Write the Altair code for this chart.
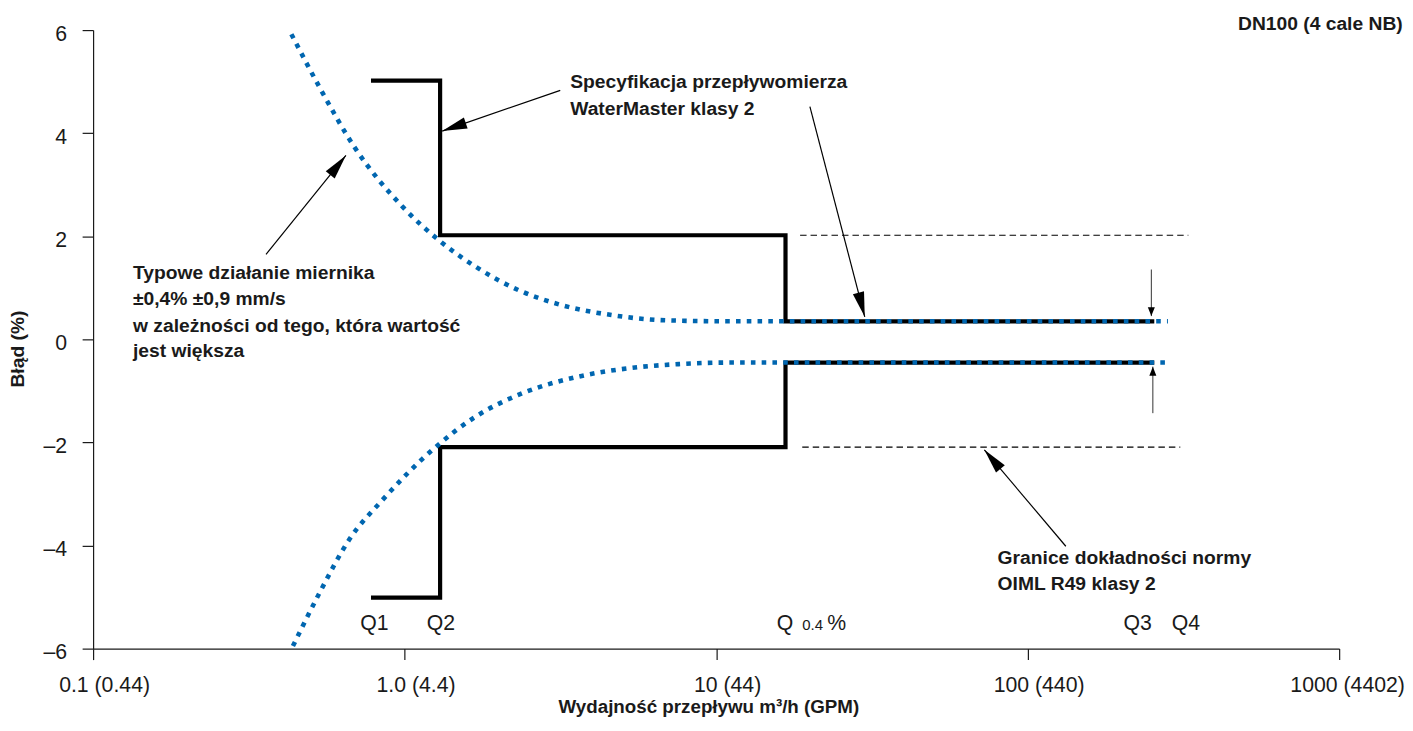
import math
import altair as alt
import pandas as pd

# ---------------- data ----------------
X_TICKS = [0.1, 1, 10, 100, 1000]
X_TICK_LABELS = ["0.1 (0.44)", "1.0 (4.4)", "10 (44)", "100 (440)", "1000 (4402)"]
Y_TICKS = [-6, -4, -2, 0, 2, 4, 6]

# WaterMaster class 2 specification (step limits)
SPEC_UP_X = [0.78, 1.30, 1.30, 16.7, 16.7, 255]
SPEC_UP_Y = [5.02, 5.02, 2.02, 2.02, 0.35, 0.35]
SPEC_LO_X = [0.78, 1.30, 1.30, 16.7, 16.7, 255]
SPEC_LO_Y = [-5.01, -5.01, -2.09, -2.09, -0.45, -0.45]

# typical meter performance (dotted blue)
TYP_UP_X = [0.433, 0.540, 0.690, 0.986, 1.29, 1.69, 2.33, 3.21, 4.64, 6.88, 11.2, 282]
TYP_UP_Y = [5.92, 4.83, 3.73, 2.57, 1.92, 1.41, 0.95, 0.66, 0.47, 0.37, 0.35, 0.35]
TYP_LO_X = [0.438, 0.533, 0.665, 0.851, 1.23, 1.69, 2.39, 3.63, 5.25, 7.59, 11.2, 282]
TYP_LO_Y = [-5.95, -4.92, -3.88, -3.11, -2.14, -1.50, -1.045, -0.72, -0.56, -0.48, -0.45, -0.45]

# OIML R49 class 2 limits (dashed)
OIML_X1 = [18.6, 18.9]
OIML_X2 = [328, 309]
OIML_Y = [2.02, -2.09]

# annotation arrows (start -> tip)
ARROW_X = [3.16, 20.0, 0.359, 132.6]
ARROW_Y = [4.83, 4.515, 1.651, -4.014]
ARROW_TX = [1.32, 30.0, 0.648, 72.6]
ARROW_TY = [4.04, 0.437, 3.567, -2.143]
SMALL_X = [249.5, 252.3]
SMALL_Y = [1.355, -1.432]
SMALL_TY = [0.451, -0.53]

# annotation text lines (left aligned, baseline)
NOTE_TEXT = ["Specyfikacja przepływomierza", "WaterMaster klasy 2",
             "Typowe działanie miernika", "±0,4% ±0,9 mm/s",
             "w zależności od tego, która wartość", "jest większa",
             "Granice dokładności normy", "OIML R49 klasy 2"]
NOTE_X = [3.40, 3.40, 0.1343, 0.1343, 0.1343, 0.1343, 80.1, 80.1]
NOTE_Y = [4.877, 4.36, 1.18, 0.664, 0.147, -0.337, -4.35, -4.866]

Q_TEXT = ["Q1", "Q2", "Q", "%", "Q3", "Q4"]
Q_X = [0.80, 1.308, 16.65, 24.4, 225.5, 322]
Q_Y = [-5.64, -5.64, -5.64, -5.64, -5.64, -5.64]
QSUB_TEXT = ["0.4"]
QSUB_X = [20.4]
QSUB_Y = [-5.64]

CORNER_TEXT = ["DN100 (4 cale NB)"]
CORNER_X = [1600]
CORNER_Y = [6.0]

# ---------------- layout ----------------
W, H = 1249, 620
FONT = "Liberation Sans"
BLUE = "#0066b0"
INK = "#1a1a1a"
BOLD = 19.3
REG = 21.3


def px(x):
    return (math.log10(x) + 1) * W / 4


def py(y):
    return (6 - y) * H / 12


def heading(sx, sy, tx, ty):
    dx = px(tx) - px(sx)
    dy = py(ty) - py(sy)
    return math.degrees(math.atan2(dx, -dy)) % 360


xscale = alt.Scale(type="log", domain=[0.1, 1000])
yscale = alt.Scale(domain=[-6, 6])

expr = ""
for v, lab in zip(X_TICKS[:-1], X_TICK_LABELS[:-1]):
    expr += f"datum.value < {v * 3} ? '{lab}' : "
expr += f"'{X_TICK_LABELS[-1]}'"

xaxis = alt.Axis(values=X_TICKS, labelExpr=expr, grid=False, tickSize=11,
                 labelFontSize=REG, labelFont=FONT, labelColor=INK,
                 labelOffset={"condition": {"test": "datum.value > 500", "value": 8},
                              "value": 11},
                 labelPadding=31.5, labelBaseline="alphabetic", labelOverlap=False,
                 labelFlush=False, domainColor=INK, tickColor=INK, domainWidth=1.2,
                 tickWidth=1.2, title="Wydajność przepływu m³/h (GPM)",
                 titleFont=FONT, titleFontSize=18.8, titleFontWeight="bold",
                 titleColor=INK, titleX=616.7, titleY=64.3, titleAlign="center",
                 titleBaseline="alphabetic")
yaxis = alt.Axis(values=Y_TICKS,
                 labelExpr="datum.value < 0 ? '–' + abs(datum.value) : datum.label",
                 grid=False, tickSize=11, labelFontSize=REG, labelFont=FONT,
                 labelColor=INK, labelPadding=15.6, labelBaseline="alphabetic",
                 labelOffset=10, labelOverlap=False, labelFlush=False,
                 domainColor=INK, tickColor=INK, domainWidth=1.2, tickWidth=1.2,
                 title="Błąd (%)", titleFont=FONT, titleFontSize=BOLD,
                 titleFontWeight="bold", titleColor=INK, titleAngle=270,
                 titleX=-69.8, titleY=319.2, titleAlign="center",
                 titleBaseline="alphabetic")


def series_df(xs, ys, name):
    return pd.DataFrame({"x": xs, "y": ys, "i": list(range(len(xs))), "s": name})


spec_df = pd.concat([series_df(SPEC_UP_X, SPEC_UP_Y, "up"),
                     series_df(SPEC_LO_X, SPEC_LO_Y, "lo")])
typ_df = pd.concat([series_df(TYP_UP_X, TYP_UP_Y, "up"),
                    series_df(TYP_LO_X, TYP_LO_Y, "lo")])
oiml_df = pd.DataFrame({"x": OIML_X1, "x2": OIML_X2, "y": OIML_Y})
arrow_df = pd.DataFrame({"x": ARROW_X, "y": ARROW_Y, "tx": ARROW_TX, "ty": ARROW_TY})
arrow_df["angle"] = [heading(a, b, c, d) for a, b, c, d in zip(ARROW_X, ARROW_Y, ARROW_TX, ARROW_TY)]
small_df = pd.DataFrame({"x": SMALL_X, "y": SMALL_Y, "tx": SMALL_X, "ty": SMALL_TY})
small_df["angle"] = [heading(a, b, a, d) for a, b, d in zip(SMALL_X, SMALL_Y, SMALL_TY)]
note_df = pd.DataFrame({"x": NOTE_X, "y": NOTE_Y, "t": NOTE_TEXT})
q_df = pd.DataFrame({"x": Q_X, "y": Q_Y, "t": Q_TEXT})
qsub_df = pd.DataFrame({"x": QSUB_X, "y": QSUB_Y, "t": QSUB_TEXT})
corner_df = pd.DataFrame({"x": CORNER_X, "y": CORNER_Y, "t": CORNER_TEXT})

X = alt.X("x:Q", scale=xscale, axis=xaxis)
Y = alt.Y("y:Q", scale=yscale, axis=yaxis)

oiml = alt.Chart(oiml_df).mark_rule(color="black", strokeWidth=1.1, strokeDash=[6.5, 4]).encode(
    x=X, x2="x2:Q", y=Y)

spec = alt.Chart(spec_df).mark_line(color="black", strokeWidth=4.2, strokeJoin="miter",
                                    strokeCap="butt").encode(
    x=X, y=Y, order="i:Q", detail="s:N")

typ = alt.Chart(typ_df).mark_line(color=BLUE, strokeWidth=4.6, strokeDash=[4.6, 6.2],
                                  strokeCap="butt", interpolate="monotone").encode(
    x=X, y=Y, order="i:Q", detail="s:N")

arrows = alt.Chart(arrow_df).mark_rule(color="black", strokeWidth=1.2).encode(
    x=X, y=Y, x2="tx:Q", y2="ty:Q")
heads = alt.Chart(arrow_df).mark_point(shape="M0,0 L0.23,1 L-0.23,1 Z", filled=True,
                                       color="black", opacity=1, size=2500,
                                       strokeWidth=0).encode(
    x=alt.X("tx:Q", scale=xscale), y=alt.Y("ty:Q", scale=yscale),
    angle=alt.Angle("angle:Q", scale=None))

small = alt.Chart(small_df).mark_rule(color="#333333", strokeWidth=1).encode(
    x=X, y=Y, x2="tx:Q", y2="ty:Q")
small_heads = alt.Chart(small_df).mark_point(shape="M0,0 L0.39,1 L-0.39,1 Z", filled=True,
                                             color="black", opacity=1, size=324,
                                             strokeWidth=0).encode(
    x=alt.X("tx:Q", scale=xscale), y=alt.Y("ty:Q", scale=yscale),
    angle=alt.Angle("angle:Q", scale=None))

notes = alt.Chart(note_df).mark_text(align="left", baseline="alphabetic", font=FONT,
                                     fontSize=BOLD, fontWeight="bold", color=INK).encode(
    x=X, y=Y, text="t:N")
qlab = alt.Chart(q_df).mark_text(align="center", baseline="alphabetic", font=FONT,
                                 fontSize=REG, color=INK).encode(x=X, y=Y, text="t:N")
qsub = alt.Chart(qsub_df).mark_text(align="center", baseline="alphabetic", font=FONT,
                                    fontSize=15, color=INK).encode(x=X, y=Y, text="t:N")
corner = alt.Chart(corner_df).mark_text(align="right", baseline="alphabetic", font=FONT,
                                        fontSize=BOLD, fontWeight="bold", color=INK).encode(
    x=X, y=Y, text="t:N")

chart = alt.layer(oiml, spec, typ, arrows, heads, small, small_heads, notes, qlab, qsub,
                  corner).properties(
    width=W, height=H,
    padding={"left": 85.3, "top": 21.3, "right": 66, "bottom": 67.5},
    autosize=alt.AutoSizeParams(type="none"),
).configure_view(stroke=None)

chart.save("out.html", embed_options={"renderer": "svg", "actions": False})
